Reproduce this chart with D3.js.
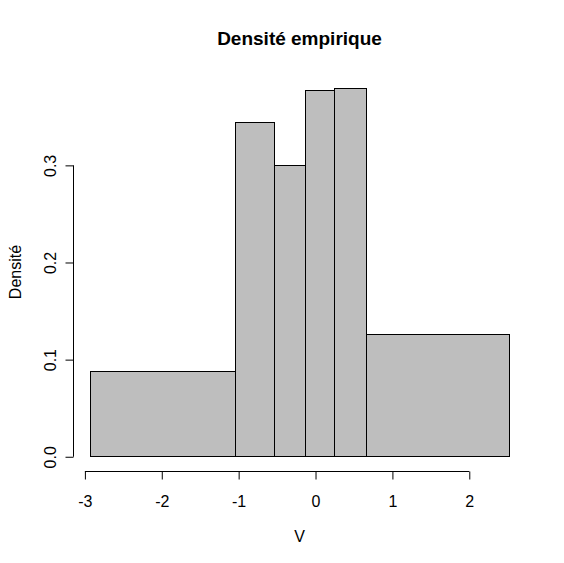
<!DOCTYPE html>
<html lang="fr">
<head>
<meta charset="utf-8">
<title>Densité empirique</title>
<script src="https://cdn.jsdelivr.net/npm/d3@7"></script>
<style>
  body { margin: 0; background: #fff; }
  text { font-family: "Liberation Sans", Arial, sans-serif; }
</style>
</head>
<body>
<div id="chart"></div>
<script>
// histogram breaks (unequal widths) and density per bin
var breaks = [-2.93, -1.042, -0.534, -0.13, 0.247, 0.664, 2.526];
var density = [0.0876, 0.3443, 0.300, 0.3773, 0.3794, 0.1258];
var xTicks = [-3, -2, -1, 0, 1, 2];
var yTicks = [0.0, 0.1, 0.2, 0.3];

var width = 564, height = 563;
// plot region, like R's default margins
var plot = {left: 73, right: 526, top: 73, bottom: 471};

var bins = density.map(function(d, i) {
    return {x0: breaks[i], x1: breaks[i + 1], d: d};
});

// R pads the range by 4% on each side
var xr = d3.extent(breaks), xpad = (xr[1] - xr[0]) * 0.04;
var ymax = d3.max(density), ypad = ymax * 0.04;

var x = d3.scaleLinear()
    .domain([xr[0] - xpad, xr[1] + xpad])
    .range([plot.left, plot.right]);

var y = d3.scaleLinear()
    .domain([-ypad, ymax + ypad])
    .range([plot.bottom, plot.top]);

var svg = d3.select("#chart").append("svg")
    .attr("width", width)
    .attr("height", height);

svg.selectAll("rect.bar")
    .data(bins)
    .enter()
    .append("rect")
    .attr("class", "bar")
    .attr("x", function(b) { return Math.round(x(b.x0)) + 0.5; })
    .attr("y", function(b) { return Math.round(y(b.d)) + 0.5; })
    .attr("width", function(b) { return Math.round(x(b.x1)) - Math.round(x(b.x0)); })
    .attr("height", function(b) { return Math.round(y(0)) - Math.round(y(b.d)); })
    .attr("fill", "#bebebe")
    .attr("stroke", "#000")
    .attr("stroke-width", 1);

// x axis (plain hyphen for negatives, as R prints them)
var xAxis = d3.axisBottom(x)
    .tickValues(xTicks)
    .tickSize(8)
    .tickPadding(16)
    .tickFormat(function(d) { return String(d); });

var gx = svg.append("g")
    .attr("transform", "translate(0.5," + (Math.round(plot.bottom) + 0.5) + ")")
    .call(xAxis);
gx.select(".domain")
    .attr("d", "M" + x(xTicks[0]) + ",0H" + x(xTicks[xTicks.length - 1]));
gx.selectAll("line").attr("stroke", "#000");
gx.selectAll("text")
    .attr("fill", "#000")
    .style("font-size", "16px");

// y axis, labels rotated like R
var yAxis = d3.axisLeft(y)
    .tickValues(yTicks)
    .tickSize(8)
    .tickFormat(d3.format(".1f"));

var gy = svg.append("g")
    .attr("transform", "translate(" + (Math.round(plot.left) + 0.5) + ",0.5)")
    .call(yAxis);
gy.select(".domain")
    .attr("d", "M0," + y(yTicks[0]) + "V" + y(yTicks[yTicks.length - 1]));
gy.selectAll("line").attr("stroke", "#000");
gy.selectAll("text")
    .attr("fill", "#000")
    .attr("x", 0)
    .attr("y", 0)
    .attr("dy", null)
    .attr("text-anchor", "middle")
    .attr("transform", "translate(-18,0) rotate(-90)")
    .style("font-size", "16px");

// title and axis labels
svg.append("text")
    .attr("x", (plot.left + plot.right) / 2)
    .attr("y", 45)
    .attr("text-anchor", "middle")
    .style("font-size", "19px")
    .style("font-weight", "bold")
    .text("Densité empirique");

svg.append("text")
    .attr("x", (plot.left + plot.right) / 2)
    .attr("y", 542)
    .attr("text-anchor", "middle")
    .style("font-size", "16px")
    .text("V");

svg.append("text")
    .attr("transform", "translate(21," + ((plot.top + plot.bottom) / 2) + ") rotate(-90)")
    .attr("text-anchor", "middle")
    .style("font-size", "16px")
    .text("Densité");
</script>
</body>
</html>
